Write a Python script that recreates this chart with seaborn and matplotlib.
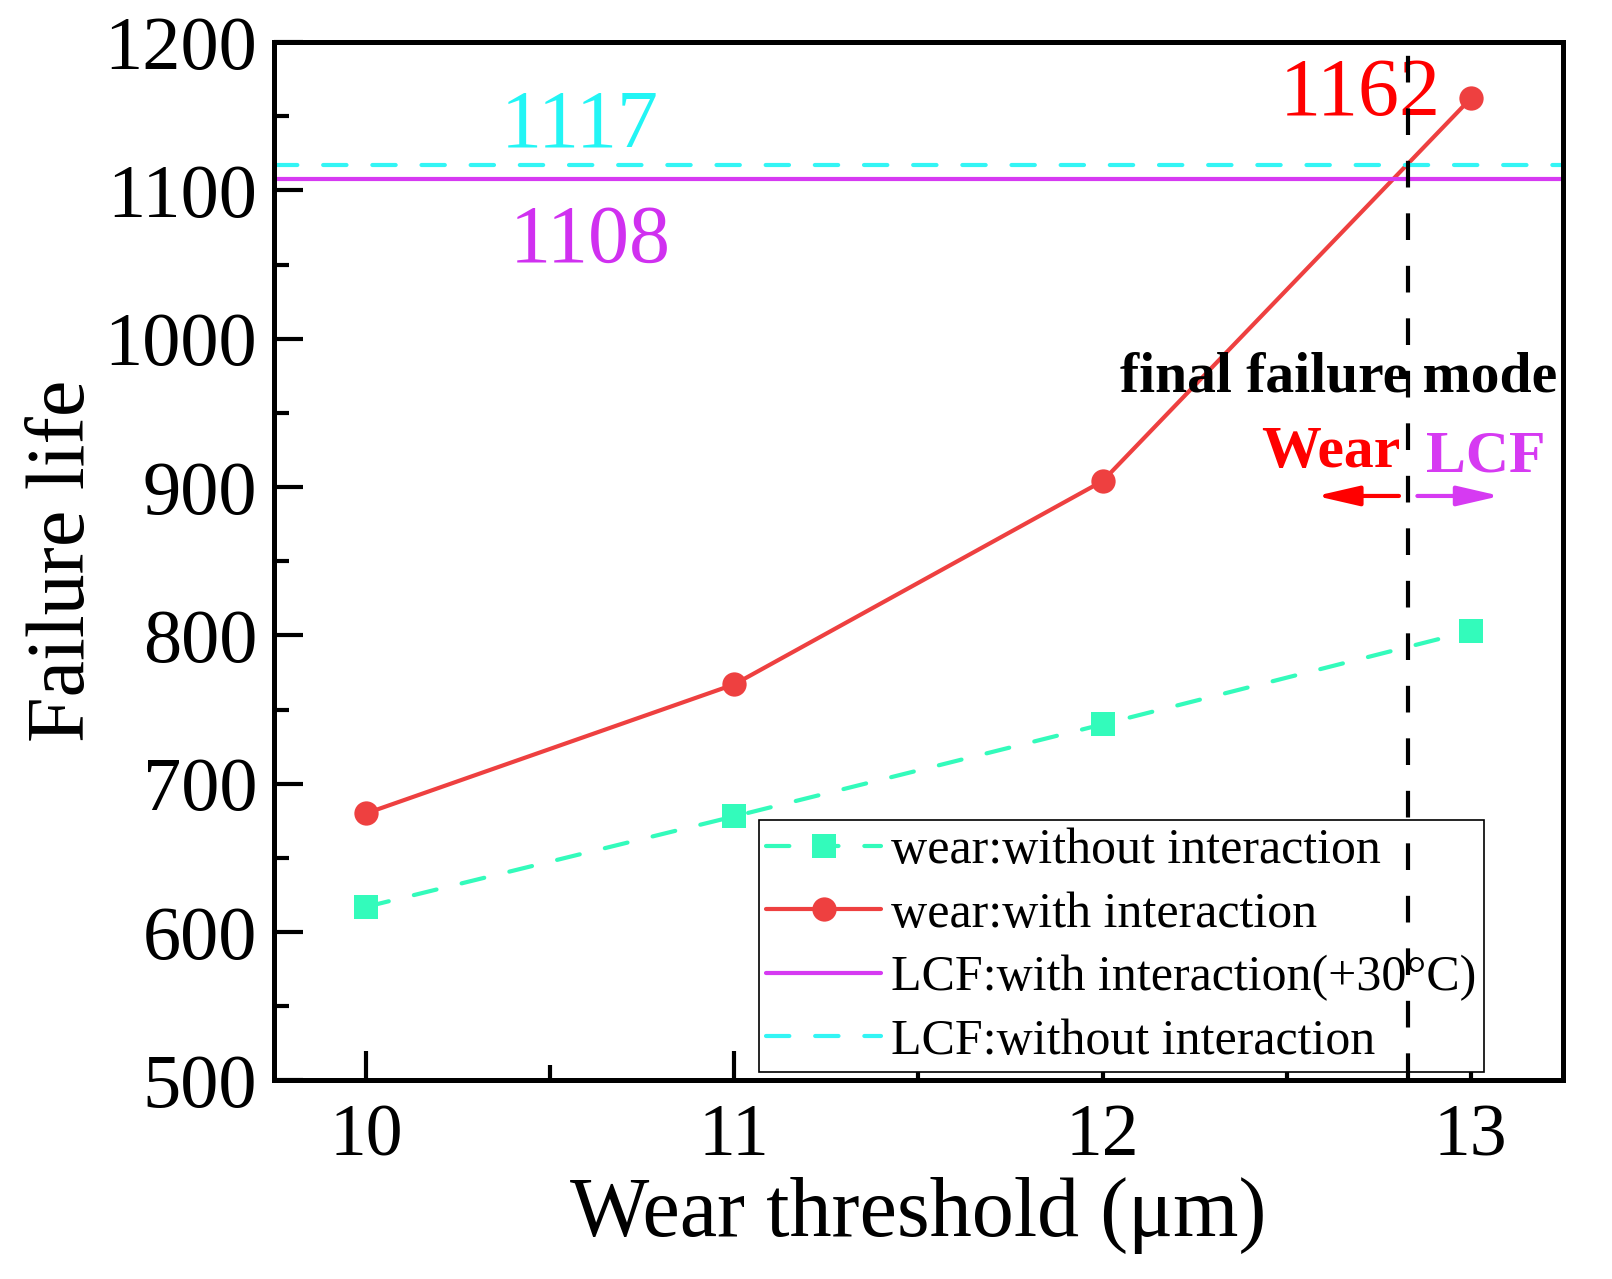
import matplotlib
matplotlib.use("Agg")
import matplotlib.pyplot as plt
from matplotlib.lines import Line2D
from matplotlib.ticker import MultipleLocator
import pandas as pd
import seaborn as sns

# data
thresholds = [10, 11, 12, 13]
wear_without = [617, 678, 740, 803]
wear_with = [680, 767, 904, 1162]
lcf_with = 1108
lcf_without = 1117
switch_x = 12.83

c_green = "#33FBBB"
c_red = "#EE4040"
c_mag = "#D63AF2"
c_cyan = "#33F5F5"

sns.set_style("ticks", {"axes.edgecolor": "black", "text.color": "black",
                        "xtick.color": "black", "ytick.color": "black",
                        "axes.labelcolor": "black"})
plt.rcParams["font.family"] = ["Liberation Serif", "DejaVu Serif"]

df = pd.DataFrame({
    "x": thresholds * 2,
    "y": wear_without + wear_with,
    "serie": ["wear:without interaction"] * 4 + ["wear:with interaction"] * 4,
})

fig = plt.figure(figsize=(16.12, 12.79), dpi=100)
ax = fig.add_axes([0.170, 0.1553, 0.7995, 0.8118])

dash_g = (0, (5.6, 6.2))
sns.lineplot(data=df[df["serie"] == "wear:without interaction"], x="x", y="y",
             color=c_green, lw=3, marker="s", markersize=17, markeredgewidth=0,
             ax=ax, linestyle=dash_g, dash_capstyle="round")
sns.lineplot(data=df[df["serie"] == "wear:with interaction"], x="x", y="y",
             color=c_red, lw=3, marker="o", markersize=17.5, markeredgewidth=0,
             ax=ax)

ax.axhline(lcf_with, color=c_mag, lw=3)
ax.axhline(lcf_without, color=c_cyan, lw=3, linestyle=dash_g, dash_capstyle="round")
ax.axvline(switch_x, color="black", lw=3, linestyle=(0, (6.4, 6.2)), zorder=6)

ax.set_xlim(9.75, 13.25)
ax.set_ylim(500, 1200)
ax.xaxis.set_major_locator(MultipleLocator(1))
ax.xaxis.set_minor_locator(MultipleLocator(0.5))
ax.yaxis.set_major_locator(MultipleLocator(100))
ax.yaxis.set_minor_locator(MultipleLocator(50))
ax.tick_params(which="major", direction="in", length=21, width=3, pad=12)
ax.tick_params(which="minor", direction="in", length=11, width=3)
ax.tick_params(axis="x", which="both", top=False, labelsize=53, pad=17)
ax.tick_params(axis="y", which="both", right=False, labelsize=55)
for s in ax.spines.values():
    s.set_linewidth(3.6)

ax.set_xlabel("Wear threshold (μm)", fontsize=60.5, labelpad=4)
ax.set_ylabel("Failure life", fontsize=59, labelpad=2)

# annotations
ax.text(10.58, 1143, "1117", color="#22F5F5", fontsize=59, ha="center", va="center")
ax.text(10.61, 1065, "1108", color="#D030F0", fontsize=59, ha="center", va="center")
ax.text(12.70, 1164, "1162", color="#FF0000", fontsize=59, ha="center", va="center")
ax.text(12.64, 974, "final failure mode", color="black", fontsize=41.5,
        fontweight="bold", ha="center", va="center")
ax.text(12.62, 923, "Wear", color="#FF0000", fontsize=43, fontweight="bold",
        ha="center", va="center")
ax.text(13.04, 920, "LCF", color="#D63AF2", fontsize=43, fontweight="bold",
        ha="center", va="center")
ax.annotate("", xy=(12.58, 894), xytext=(12.805, 894),
            arrowprops=dict(arrowstyle="-|>,head_length=2.6,head_width=0.6",
                            color="#FF0000", lw=3, shrinkA=0, shrinkB=0))
ax.annotate("", xy=(13.08, 894), xytext=(12.855, 894),
            arrowprops=dict(arrowstyle="-|>,head_length=2.6,head_width=0.6",
                            color="#D63AF2", lw=3, shrinkA=0, shrinkB=0))

handles = [
    Line2D([], [], color=c_green, lw=3, ls=dash_g, dash_capstyle="round",
           marker="s", markersize=17, markeredgewidth=0),
    Line2D([], [], color=c_red, lw=3, marker="o", markersize=17.5, markeredgewidth=0),
    Line2D([], [], color=c_mag, lw=3),
    Line2D([], [], color=c_cyan, lw=3, ls=dash_g, dash_capstyle="round"),
]
labels = ["wear:without interaction", "wear:with interaction",
          "LCF:with interaction(+30°C)", "LCF:without interaction"]
leg = ax.legend(handles, labels, loc="lower left", bbox_to_anchor=(0.376, 0.008),
                fontsize=36, frameon=True, fancybox=False, edgecolor="black",
                framealpha=1, handlelength=2.3, handletextpad=0.2,
                labelspacing=0.34, borderpad=0.15, borderaxespad=0)
leg.get_frame().set_linewidth(1.2)

fig.savefig("out.png", dpi=100)
